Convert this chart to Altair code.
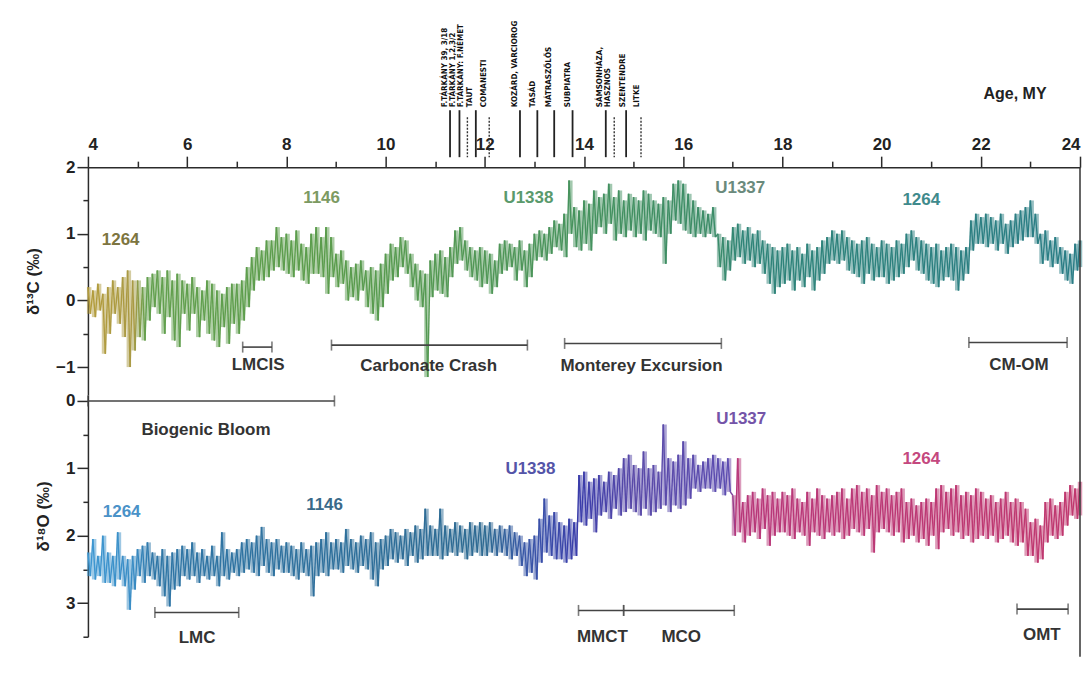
import altair as alt
import pandas as pd

# ---------------- data ----------------
AGE_START = 4.0
AGE_STEP = 0.1  # one value pair per 0.1 MY, 4.0 ... 24.0

# d13C upper / lower edge of the noisy record
d13c_hi = [
    0.2, 0.15, 0.25, 0.1, 0.2, 0.3, 0.2, 0.35, 0.45, 0.3,
    0.3, 0.2, 0.35, 0.4, 0.45, 0.35, 0.45, 0.3, 0.4, 0.3,
    0.25, 0.35, 0.2, 0.15, 0.3, 0.25, 0.15, 0.1, 0.2, 0.25,
    0.25, 0.3, 0.5, 0.65, 0.8, 0.75, 0.9, 0.9, 1.1, 0.95,
    1.0, 0.9, 1.05, 0.85, 0.8, 1.0, 1.1, 0.95, 1.1, 0.95,
    0.7, 0.75, 0.6, 0.5, 0.55, 0.6, 0.45, 0.5, 0.45, 0.55,
    0.7, 0.85, 0.8, 0.95, 0.9, 0.7, 0.55, 0.45, 0.4, 0.6,
    0.7, 0.75, 0.65, 0.8, 1.05, 1.1, 0.9, 0.8, 0.75, 0.8,
    0.75, 0.7, 0.6, 0.85, 0.9, 0.85, 0.8, 0.9, 0.75, 0.85,
    1.0, 1.05, 1.0, 1.1, 1.2, 1.15, 1.3, 1.8, 1.4, 1.35,
    1.5, 1.45, 1.65, 1.55, 1.6, 1.75, 1.55, 1.65, 1.5, 1.6,
    1.55, 1.5, 1.65, 1.6, 1.5, 1.45, 1.55, 1.5, 1.75, 1.8,
    1.75, 1.6, 1.5, 1.4, 1.35, 1.3, 1.4, 1.0, 0.95, 0.9,
    1.1, 1.15, 1.05, 1.1, 1.0, 1.05, 0.9, 0.85, 0.8, 0.75,
    0.8, 0.85, 0.75, 0.8, 0.7, 0.85, 0.75, 0.8, 0.9, 0.95,
    1.05, 1.0, 1.05, 0.95, 0.9, 0.85, 0.9, 0.95, 0.85, 0.8,
    0.9, 0.85, 0.8, 0.9, 0.85, 1.0, 1.05, 0.95, 0.9, 0.85,
    0.8, 0.85, 0.75, 0.8, 0.85, 0.8, 0.75, 0.8, 1.2, 1.3,
    1.25, 1.3, 1.25, 1.2, 1.3, 1.15, 1.2, 1.3, 1.35, 1.4,
    1.5, 1.3, 1.0, 1.05, 0.9, 0.95, 0.8, 0.75, 0.7, 0.85,
    0.9,
]
d13c_lo = [
    -0.2, -0.25, -0.15, -0.8, -0.5, -0.2, -0.35, -0.55, -1.0, -0.75,
    -0.55, -0.6, -0.3, -0.1, -0.2, -0.5, -0.25, -0.6, -0.7, -0.2,
    -0.45, -0.2, -0.55, -0.3, -0.5, -0.6, -0.7, -0.4, -0.65, -0.35,
    -0.5, -0.3, -0.1, 0.15, 0.3, 0.3, 0.35, 0.45, 0.5, 0.45,
    0.4, 0.35, 0.45, 0.3, 0.25, 0.4, 0.4, 0.35, 0.1, 0.35,
    0.2, 0.25, 0.0, 0.05, 0.0, 0.15, -0.1, -0.2, -0.3, -0.1,
    0.1, 0.3, 0.35, 0.5, 0.4, 0.2, 0.0, -0.1, -1.15, 0.05,
    0.15, 0.1, 0.05, 0.35, 0.55, 0.6, 0.45, 0.35, 0.3, 0.2,
    0.25, 0.1, 0.2, 0.4, 0.45, 0.5, 0.3, 0.45, 0.2, 0.35,
    0.6, 0.65, 0.6, 0.7, 0.8, 0.75, 0.65, 1.0, 0.8, 0.75,
    0.85, 0.75, 1.0, 1.1, 1.0, 1.15, 0.9, 1.0, 0.95, 1.05,
    0.95, 1.0, 0.9, 1.05, 1.0, 0.95, 0.55, 1.0, 1.2, 1.15,
    1.05, 1.0, 0.95, 1.0, 0.95, 1.0, 0.95, 0.5, 0.3, 0.45,
    0.6, 0.65, 0.55, 0.6, 0.5, 0.55, 0.4, 0.25, 0.1, 0.2,
    0.25, 0.3, 0.15, 0.3, 0.2, 0.35, 0.15, 0.3, 0.4, 0.55,
    0.6, 0.55, 0.6, 0.45, 0.4, 0.35, 0.25, 0.4, 0.3, 0.35,
    0.35, 0.25, 0.3, 0.35, 0.4, 0.5, 0.6, 0.45, 0.4, 0.3,
    0.25, 0.2, 0.3, 0.35, 0.3, 0.15, 0.3, 0.4, 0.75, 0.85,
    0.85, 0.8, 0.85, 0.75, 0.85, 0.7, 0.8, 0.85, 0.9, 0.95,
    0.95, 0.85, 0.55, 0.6, 0.5, 0.55, 0.4, 0.3, 0.25, 0.45,
    0.5,
]
# d18O light / heavy edge of the noisy record
d18o_min = [
    2.25, 2.05, 2.3, 2.0, 2.25, 2.3, 1.95, 2.3, 2.35, 2.3,
    2.2, 2.15, 2.1, 2.25, 2.3, 2.2, 2.3, 2.25, 2.2, 2.15,
    2.2, 2.1, 2.25, 2.2, 2.3, 2.15, 2.3, 1.95, 2.2, 2.25,
    2.2, 2.1, 2.05, 2.1, 2.0, 1.87, 2.05, 2.1, 2.05, 2.15,
    2.1, 2.15, 2.2, 2.1, 2.2, 2.15, 2.1, 2.05, 1.95, 2.1,
    2.05, 2.1, 1.9, 2.05, 2.1, 2.0, 2.05, 1.95, 2.1, 2.05,
    2.0, 1.9, 1.95, 2.0, 1.9, 1.95, 1.85, 1.9, 1.6, 1.85,
    1.9, 1.6, 1.85, 1.9, 1.8, 1.85, 1.9, 1.8, 1.85, 1.8,
    1.85, 1.8, 1.9, 1.85, 1.9, 1.85, 1.95, 2.0, 2.1, 2.05,
    2.0, 1.75, 1.45, 1.7, 1.65, 1.8, 1.85, 1.75, 1.8, 1.1,
    1.05, 1.2, 1.15, 1.1, 1.2, 1.05, 1.1, 1.0, 0.85, 0.8,
    0.95, 1.0, 0.75, 1.0, 0.95, 1.05, 0.35, 0.85, 0.9, 0.8,
    0.6, 0.85, 0.8, 0.95, 0.9, 0.85, 0.8, 0.85, 0.9, 0.85,
    1.4, 0.85, 1.5, 1.4, 1.35, 1.45, 1.3, 1.4, 1.35, 1.45,
    1.35, 1.4, 1.3, 1.45, 1.5, 1.35, 1.45, 1.3, 1.4, 1.45,
    1.4, 1.35, 1.3, 1.45, 1.3, 1.25, 1.35, 1.3, 1.4, 1.25,
    1.35, 1.3, 1.4, 1.35, 1.3, 1.5, 1.45, 1.55, 1.5, 1.45,
    1.5, 1.3, 1.25, 1.35, 1.3, 1.25, 1.4, 1.35, 1.4, 1.3,
    1.35, 1.45, 1.4, 1.5, 1.45, 1.35, 1.5, 1.45, 1.5, 1.6,
    1.8, 1.75, 1.85, 1.5, 1.45, 1.55, 1.5, 1.35, 1.25, 1.3,
    1.2,
]
d18o_max = [
    2.6, 2.65, 2.6, 2.7, 2.7, 2.75, 2.65, 2.75, 3.1, 2.8,
    2.6, 2.7, 2.6, 2.65, 2.75, 2.9, 3.05, 2.8, 2.75, 2.6,
    2.65, 2.6, 2.7, 2.6, 2.65, 2.6, 2.75, 2.6, 2.65, 2.55,
    2.6, 2.55, 2.5, 2.55, 2.6, 2.45, 2.55, 2.6, 2.5, 2.55,
    2.55, 2.6, 2.65, 2.55, 2.6, 2.9, 2.6, 2.55, 2.6, 2.5,
    2.5, 2.55, 2.45, 2.5, 2.55, 2.45, 2.5, 2.65, 2.75, 2.5,
    2.45, 2.35, 2.4, 2.35, 2.45, 2.3, 2.4, 2.35, 2.3, 2.3,
    2.3, 2.35, 2.3, 2.25, 2.3, 2.25, 2.35, 2.3, 2.25, 2.3,
    2.3, 2.25, 2.3, 2.25, 2.3, 2.35, 2.3, 2.45, 2.6, 2.55,
    2.65, 2.4, 2.25, 2.3, 2.35, 2.35, 2.4, 2.35, 2.3, 1.8,
    1.85, 1.75, 1.95, 1.7, 1.65, 1.75, 1.6, 1.7, 1.65, 1.6,
    1.65, 1.7, 1.6, 1.7, 1.65, 1.6, 1.55, 1.65, 1.55, 1.6,
    1.55, 1.45, 1.3, 1.35, 1.3, 1.3, 1.35, 1.3, 1.4, 1.35,
    2.0, 1.95, 2.1, 2.0, 1.95, 2.05, 1.9, 2.15, 2.0, 1.95,
    1.95, 2.0, 2.05, 1.95, 2.0, 2.15, 1.95, 2.0, 2.05, 1.95,
    2.0, 1.95, 2.05, 2.0, 1.9, 1.95, 2.0, 1.9, 2.25, 1.95,
    1.9, 1.95, 2.0, 1.95, 2.1, 2.05, 2.0, 2.1, 2.05, 2.15,
    2.0, 2.2, 1.95, 1.9, 2.0, 1.95, 2.05, 2.0, 2.1, 2.05,
    2.0, 2.05, 2.0, 2.1, 2.05, 2.0, 2.1, 2.15, 2.1, 2.3,
    2.3, 2.4, 2.35, 2.1, 2.0, 2.05, 2.0, 1.85, 1.7, 1.75,
    1.7,
]

# colour ramps along age
d13c_stop_ages = [4.0, 4.9, 5.15, 9.0, 12.5, 14.0, 16.6, 17.2, 24.0]
d13c_stop_colors = ["#b39c3c", "#a99a44", "#63a04e", "#5a9c4c", "#4f9658",
                    "#45925e", "#3c8c68", "#2f8478", "#2a7d86"]
d18o_stop_ages = [4.0, 4.9, 5.3, 12.0, 12.8, 13.9, 15.0, 16.9, 17.05, 24.0]
d18o_stop_colors = ["#3d97d2", "#3a8cc4", "#2f76a6", "#2e6a92", "#3a58a8",
                    "#3a3caa", "#5a4aa8", "#5c4cb0", "#b8387a", "#c0386e"]

# site labels
d13c_site_names = ["1264", "1146", "U1338", "U1337", "1264"]
d13c_site_ages = [4.66, 8.71, 12.88, 17.15, 20.80]
d13c_site_vals = [0.9, 1.53, 1.54, 1.68, 1.5]
d13c_site_colors = ["#7d7540", "#7c9a62", "#5a9a6c", "#6a8a7c", "#3f8a8c"]

d18o_site_names = ["1264", "1146", "U1338", "U1337", "1264"]
d18o_site_ages = [4.68, 8.77, 12.92, 17.17, 20.80]
d18o_site_vals = [1.65, 1.55, 1.01, 0.27, 0.86]
d18o_site_colors = ["#4a92c8", "#3a6a8a", "#5454a8", "#7454a8", "#c4487e"]

# event bars
d13c_event_names = ["LMCIS", "Carbonate Crash", "Monterey Excursion", "CM-OM"]
d13c_event_start = [7.12, 8.91, 13.61, 21.76]
d13c_event_end = [7.71, 12.86, 16.77, 23.74]
d13c_event_bar = [-0.70, -0.67, -0.645, -0.63]
d13c_event_label_age = [7.43, 10.87, 15.16, 22.77]
d13c_event_label_val = [-0.97, -0.99, -0.99, -0.97]

d18o_event_names = ["Biogenic Bloom", "LMC", "MMCT", "MCO", "OMT"]
d18o_event_start = [4.0, 5.35, 13.89, 14.80, 22.73]
d18o_event_end = [8.97, 7.04, 14.80, 17.03, 23.76]
d18o_event_bar = [0.0, 3.14, 3.11, 3.11, 3.09]
d18o_event_label_age = [6.38, 6.2, 14.37, 15.96, 23.23]
d18o_event_label_val = [0.43, 3.52, 3.5, 3.5, 3.48]

# localities on top
locality_names = ["F.TÁRKÁNY 39, 3/18", "F.TÁRKÁNY 1,2,3/2", "F.TÁRKÁNY: F.NÉMET",
                  "TAUT", "COMANESTI", "KOZÁRD, VARCIOROG", "TASÁD", "MÁTRASZŐLŐS",
                  "SUBPIATRA", "SÁMSONHÁZA,", "HASZNOS", "SZENTENDRE", "LITKE"]
locality_label_ages = [11.20, 11.36, 11.52, 11.70, 11.98, 12.61, 12.97, 13.29,
                       13.68, 14.32, 14.48, 14.79, 15.07]
locality_line_ages = [11.30, 11.49, 11.65, 11.82, 12.09, 12.71, 13.06, 13.40,
                      13.77, 14.44, 14.61, 14.85, 15.15]
locality_line_dotted = [False, False, True, False, True, False, False, False,
                        False, False, True, False, True]

# ---------------- tables ----------------
def segments(first, second):
    pts = []
    for i, (a, b) in enumerate(zip(first, second)):
        age = AGE_START + AGE_STEP * i
        pts.append((round(age, 3), a))
        if age + AGE_STEP / 2 <= 24.0 + 1e-9:
            pts.append((round(age + AGE_STEP / 2, 3), b))
    rows = [dict(age=p[0], v=p[1], age2=q[0], v2=q[1]) for p, q in zip(pts[:-1], pts[1:])]
    return pd.DataFrame(rows)


def band(first, second):
    rows = []
    for i, (a, b) in enumerate(zip(first, second)):
        age = AGE_START + AGE_STEP * i
        rows.append(dict(age=round(min(age + AGE_STEP / 4, 24.0), 3), v=a, v2=b))
    return pd.DataFrame(rows)


d13c_seg = segments(d13c_hi, d13c_lo)
d18o_seg = segments(d18o_min, d18o_max)
d13c_band = band(d13c_hi, d13c_lo)
d18o_band = band(d18o_min, d18o_max)

d13c_sites = pd.DataFrame(dict(label=d13c_site_names, age=d13c_site_ages,
                               v=d13c_site_vals, col=d13c_site_colors))
d18o_sites = pd.DataFrame(dict(label=d18o_site_names, age=d18o_site_ages,
                               v=d18o_site_vals, col=d18o_site_colors))

d13c_bars = pd.DataFrame(dict(age=d13c_event_start, age2=d13c_event_end, v=d13c_event_bar))
d18o_bars = pd.DataFrame(dict(age=d18o_event_start, age2=d18o_event_end, v=d18o_event_bar))
d13c_caps = pd.DataFrame(dict(age=d13c_event_start + d13c_event_end, v=d13c_event_bar * 2))
d18o_caps = pd.DataFrame(dict(age=d18o_event_start + d18o_event_end, v=d18o_event_bar * 2))
d13c_evlab = pd.DataFrame(dict(label=d13c_event_names, age=d13c_event_label_age, v=d13c_event_label_val))
d18o_evlab = pd.DataFrame(dict(label=d18o_event_names, age=d18o_event_label_age, v=d18o_event_label_val))

loc_text = pd.DataFrame(dict(name=locality_names, age=locality_label_ages))
loc_lines = pd.DataFrame(dict(age=locality_line_ages, dotted=locality_line_dotted))

# ---------------- chart ----------------
FONT = "Liberation Sans"
NARROW = "Liberation Sans Narrow, DejaVu Sans Condensed, sans-serif"
W, H1, H2 = 993, 228, 242
INK = "#2b2b2b"

xs = alt.Scale(domain=[4, 24], nice=False, zero=False)
ys1 = alt.Scale(domain=[-1.418, 2], nice=False, zero=False)
ys2 = alt.Scale(domain=[-0.089, 3.5], nice=False, zero=False, reverse=True)

x_axis = alt.Axis(orient="top", values=list(range(4, 25)), format="d",
                  labelExpr="datum.value % 2 == 0 ? datum.label : ''",
                  tickSize={"condition": {"test": "datum.value % 2 != 0", "value": 6}, "value": 11},
                  labelPadding=3, labelFontSize=17, labelFontWeight="bold",
                  title="Age, MY", titleFontSize=16, titleFontWeight="bold",
                  titleX=959, titleY=-69, titleAlign="right", titleBaseline="alphabetic",
                  domainWidth=1.5, tickWidth=1.5)

def y_axis(vals, title):
    return alt.Axis(values=vals, format=".0f",
                    labelExpr="datum.value % 1 == 0 ? datum.label : ''",
                    tickSize={"condition": {"test": "datum.value % 1 != 0", "value": 5}, "value": 11},
                    labelPadding=2, labelFontSize=17, labelFontWeight="bold",
                    title=title, titleFontSize=17, titleFontWeight="bold", titlePadding=13,
                    domainWidth=1.5, tickWidth=1.5)

y_axis1 = y_axis([-1, -0.5, 0, 0.5, 1, 1.5, 2], "δ¹³C (‰)")
y_axis2 = y_axis([0, 0.5, 1, 1.5, 2, 2.5, 3, 3.5], "δ¹⁸O (‰)")


def panel(seg, bnd, stop_ages, stop_colors, sites, bars, caps, evlab, yscale, yaxis, xaxis, h, extra):
    X = alt.X("age:Q", scale=xs, axis=xaxis)
    Y = alt.Y("v:Q", scale=yscale, axis=yaxis)
    stroke = alt.Stroke("age:Q", scale=alt.Scale(domain=stop_ages, range=stop_colors,
                                                  interpolate="rgb"), legend=None)
    fillband = alt.Chart(bnd).mark_rule(strokeWidth=4.5, opacity=0.5).encode(
        x=X, y=Y, y2="v2:Q", stroke=stroke)
    series = alt.Chart(seg).mark_rule(strokeWidth=1.4).encode(
        x=X, x2="age2:Q", y=Y, y2="v2:Q", stroke=stroke)
    bar = alt.Chart(bars).mark_rule(color="#444", strokeWidth=1.6).encode(x=X, x2="age2:Q", y=Y)
    cap = alt.Chart(caps).mark_tick(orient="vertical", size=11, thickness=1.6, color="#444").encode(x=X, y=Y)
    site = alt.Chart(sites).mark_text(font=FONT, fontSize=17, fontWeight="bold").encode(
        x=X, y=Y, text="label:N", fill=alt.Fill("col:N", scale=None))
    ev = alt.Chart(evlab).mark_text(font=FONT, fontSize=17, fontWeight="bold", color="#333").encode(
        x=X, y=Y, text="label:N")
    border = alt.Chart(pd.DataFrame(dict(age=[24.0]))).mark_rule(color="#333", strokeWidth=1.5).encode(
        x=X, y=alt.value(0), y2=alt.value(h + extra))
    return [fillband, series, bar, cap, site, ev, border]


top_layers = panel(d13c_seg, d13c_band, d13c_stop_ages, d13c_stop_colors, d13c_sites, d13c_bars,
                   d13c_caps, d13c_evlab, ys1, y_axis1, x_axis, H1, 0)
Xt = alt.X("age:Q", scale=xs, axis=x_axis)
loc_t = alt.Chart(loc_text).mark_text(angle=270, align="left", baseline="middle", font=NARROW,
                                      fontSize=8, fontWeight="bold", color="#111").encode(
    x=Xt, y=alt.value(-60), text="name:N")
loc_solid = alt.Chart(loc_lines).transform_filter("!datum.dotted").mark_rule(
    color="#222", strokeWidth=1.8).encode(x=Xt, y=alt.value(-57), y2=alt.value(-10))
loc_dot = alt.Chart(loc_lines).transform_filter("datum.dotted").mark_rule(
    color="#333", strokeWidth=1.4, strokeDash=[2, 1.5]).encode(x=Xt, y=alt.value(-50), y2=alt.value(-10))

top = alt.layer(*top_layers, loc_t, loc_solid, loc_dot).properties(width=W, height=H1)

bottom_layers = panel(d18o_seg, d18o_band, d18o_stop_ages, d18o_stop_colors, d18o_sites, d18o_bars,
                      d18o_caps, d18o_evlab, ys2, y_axis2, None, H2, 20)
bottom = alt.layer(*bottom_layers).properties(width=W, height=H2)

chart = alt.vconcat(top, bottom, spacing=0, bounds="flush").resolve_scale(
    stroke="independent").properties(
    padding={"left": 16, "top": 12, "right": 0, "bottom": 0}
).configure_view(stroke=None).configure_axis(
    domainColor=INK, tickColor=INK, labelColor="#222", titleColor="#222",
    grid=False, labelFont=FONT, titleFont=FONT)

chart.save("out.html", embed_options={"renderer": "svg", "actions": False})
